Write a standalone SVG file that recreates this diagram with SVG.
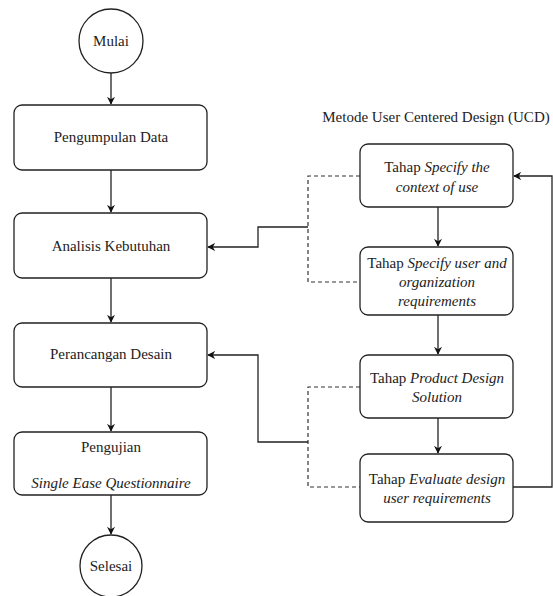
<svg xmlns="http://www.w3.org/2000/svg" width="553" height="596" viewBox="0 0 553 596">
<style>
.t{font-size:15px;fill:#222}
.box{fill:#fff;stroke:#222;stroke-width:1.3}
.c{fill:none;stroke:#222;stroke-width:1.3}
.d{fill:none;stroke:#333;stroke-width:1.2;stroke-dasharray:4,3}
</style>
<defs>
<marker id="ah" viewBox="0 0 10 10" refX="9" refY="5" markerWidth="8" markerHeight="8" markerUnits="userSpaceOnUse" orient="auto">
<path d="M0,0 L10,5 L0,10 L3,5 Z" fill="#111"/>
</marker>
</defs>
<rect width="553" height="596" fill="#fff"/>
<text class="t" font-family="Liberation Serif" text-anchor="middle" x="436" y="122">Metode User Centered Design (UCD)</text>
<g id="connectors">
<path class="c" d="M111,73 V104" marker-end="url(#ah)"/>
<path class="c" d="M111,170 V212" marker-end="url(#ah)"/>
<path class="c" d="M111,278 V322" marker-end="url(#ah)"/>
<path class="c" d="M111,387 V431" marker-end="url(#ah)"/>
<path class="c" d="M111,495 V534" marker-end="url(#ah)"/>
<path class="c" d="M438,207 V246" marker-end="url(#ah)"/>
<path class="c" d="M438,315 V354" marker-end="url(#ah)"/>
<path class="c" d="M438,418 V453" marker-end="url(#ah)"/>
<path class="d" d="M360,176 H308 V282 H360"/>
<path class="d" d="M360,387 H308 V487 H360"/>
<path class="c" d="M308,227 H258 V247 H208" marker-end="url(#ah)"/>
<path class="c" d="M308,442 H258 V355 H208" marker-end="url(#ah)"/>
<path class="c" d="M513,487 H552 V176 H514" marker-end="url(#ah)"/>
</g>
<g id="mulai">
<circle class="box" cx="111" cy="41" r="32"/>
<text class="t" font-family="Liberation Serif" text-anchor="middle" x="111" y="46">Mulai</text>
</g>
<g id="pengumpulan">
<rect class="box" x="14" y="105" width="193" height="65" rx="8"/>
<text class="t" font-family="Liberation Serif" text-anchor="middle" x="111" y="142">Pengumpulan Data</text>
</g>
<g id="analisis">
<rect class="box" x="14" y="213" width="193" height="65" rx="8"/>
<text class="t" font-family="Liberation Serif" text-anchor="middle" x="111" y="251">Analisis Kebutuhan</text>
</g>
<g id="perancangan">
<rect class="box" x="14" y="323" width="193" height="64" rx="8"/>
<text class="t" font-family="Liberation Serif" text-anchor="middle" x="111" y="359">Perancangan Desain</text>
</g>
<g id="pengujian">
<rect class="box" x="14" y="432" width="193" height="63" rx="8"/>
<text class="t" font-family="Liberation Serif" text-anchor="middle" x="111" y="452">Pengujian</text>
<text class="t" font-family="Liberation Serif" font-style="italic" text-anchor="middle" x="111" y="488">Single Ease Questionnaire</text>
</g>
<g id="selesai">
<circle class="box" cx="111" cy="566" r="31"/>
<text class="t" font-family="Liberation Serif" text-anchor="middle" x="111" y="571">Selesai</text>
</g>
<g id="specify-context">
<rect class="box" x="360" y="144" width="153" height="63" rx="8"/>
<text class="t" font-family="Liberation Serif" text-anchor="middle" x="437" y="172">Tahap <tspan font-style="italic">Specify the</tspan></text>
<text class="t" font-family="Liberation Serif" font-style="italic" text-anchor="middle" x="437" y="192">context of use</text>
</g>
<g id="specify-user">
<rect class="box" x="360" y="247" width="153" height="68" rx="8"/>
<text class="t" font-family="Liberation Serif" text-anchor="middle" x="437" y="268">Tahap <tspan font-style="italic">Specify user and</tspan></text>
<text class="t" font-family="Liberation Serif" font-style="italic" text-anchor="middle" x="437" y="287">organization</text>
<text class="t" font-family="Liberation Serif" font-style="italic" text-anchor="middle" x="437" y="306">requirements</text>
</g>
<g id="product-design">
<rect class="box" x="360" y="355" width="153" height="63" rx="8"/>
<text class="t" font-family="Liberation Serif" text-anchor="middle" x="437" y="383">Tahap <tspan font-style="italic">Product Design</tspan></text>
<text class="t" font-family="Liberation Serif" font-style="italic" text-anchor="middle" x="437" y="402">Solution</text>
</g>
<g id="evaluate">
<rect class="box" x="360" y="454" width="153" height="68" rx="8"/>
<text class="t" font-family="Liberation Serif" text-anchor="middle" x="437" y="484">Tahap <tspan font-style="italic">Evaluate design</tspan></text>
<text class="t" font-family="Liberation Serif" font-style="italic" text-anchor="middle" x="437" y="503">user requirements</text>
</g>
</svg>
